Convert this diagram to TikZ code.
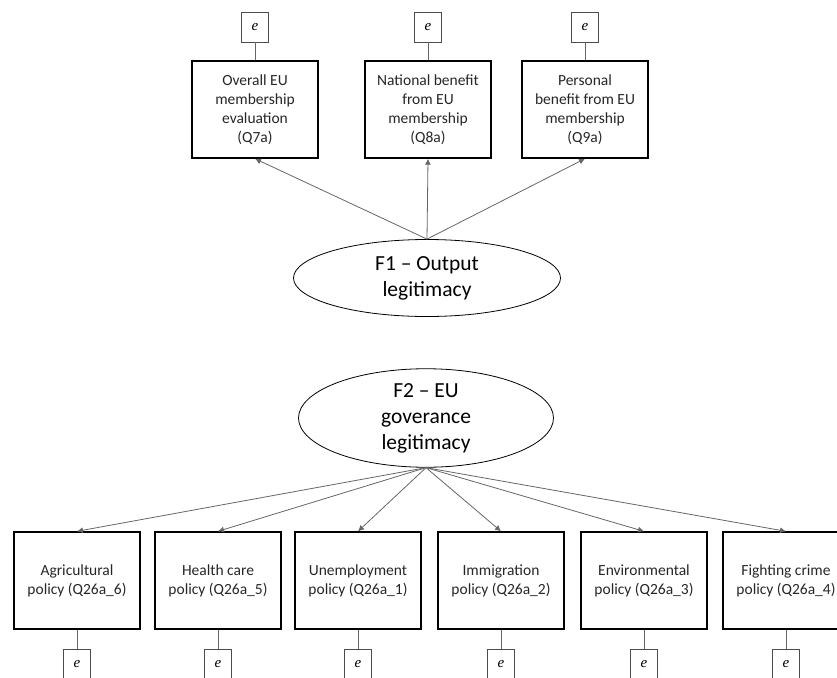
\documentclass[tikz,border=0pt]{standalone}
\usepackage{fontspec}
\setmainfont{Carlito}
\newfontfamily\errfont{Liberation Serif}
\usetikzlibrary{arrows.meta,shapes.geometric}
\begin{document}
\begin{tikzpicture}[x=1pt,y=-1pt,
  indicator/.style={draw=black,line width=1.4pt,minimum width=126pt,minimum height=97pt,
    inner sep=0pt,align=center,font=\fontsize{15.5}{19}\selectfont,text=black!85},
  errterm/.style={draw=black!70,line width=0.6pt,minimum width=27pt,minimum height=30pt,
    inner sep=0pt,font=\errfont\itshape\fontsize{15}{16}\selectfont},
  factor/.style={draw=black,line width=0.8pt,ellipse,inner sep=0pt,align=center,
    font=\fontsize{21.5}{26}\selectfont},
  link/.style={draw=black!60,line width=0.8pt},
  load/.style={link,-{Latex[length=6pt,width=6pt]}}]
\useasboundingbox (0,0) rectangle (837,677);

% measurement model for output legitimacy
\node[factor,minimum width=267pt,minimum height=77pt] (F1) at (427,278) {F1 – Output\\legitimacy};
\node[indicator] (T1) at (255,109.5) {Overall EU\\membership\\evaluation\\(Q7a)};
\node[indicator] (T2) at (428,109.5) {National benefit\\from EU\\membership\\(Q8a)};
\node[indicator] (T3) at (585,109.5) {Personal\\benefit from EU\\membership\\(Q9a)};
\foreach \i in {1,2,3}{
  \node[errterm] (eT\i) at ([yshift=18pt]T\i.north) [anchor=south] {e};
  \draw[link] (eT\i.south) -- (T\i.north);
  \draw[load] (F1.north) -- (T\i.south);
}

% measurement model for governance legitimacy
\node[factor,minimum width=255pt,minimum height=97pt] (F2) at (426,418) {F2 – EU\\goverance\\legitimacy};
\node[indicator] (B1) at (77,580.5)  {Agricultural\\policy (Q26a\_6)};
\node[indicator] (B2) at (218,580.5) {Health care\\policy (Q26a\_5)};
\node[indicator] (B3) at (358,580.5) {Unemployment\\policy (Q26a\_1)};
\node[indicator] (B4) at (501,580.5) {Immigration\\policy (Q26a\_2)};
\node[indicator] (B5) at (644,580.5) {Environmental\\policy (Q26a\_3)};
\node[indicator] (B6) at (786,580.5) {Fighting crime\\policy (Q26a\_4)};
\foreach \i in {1,...,6}{
  \node[errterm] (eB\i) at ([yshift=-19pt]B\i.south) [anchor=north] {e};
  \draw[link] (B\i.south) -- (eB\i.north);
  \draw[load] (F2.south) -- (B\i.north);
}
\end{tikzpicture}
\end{document}
